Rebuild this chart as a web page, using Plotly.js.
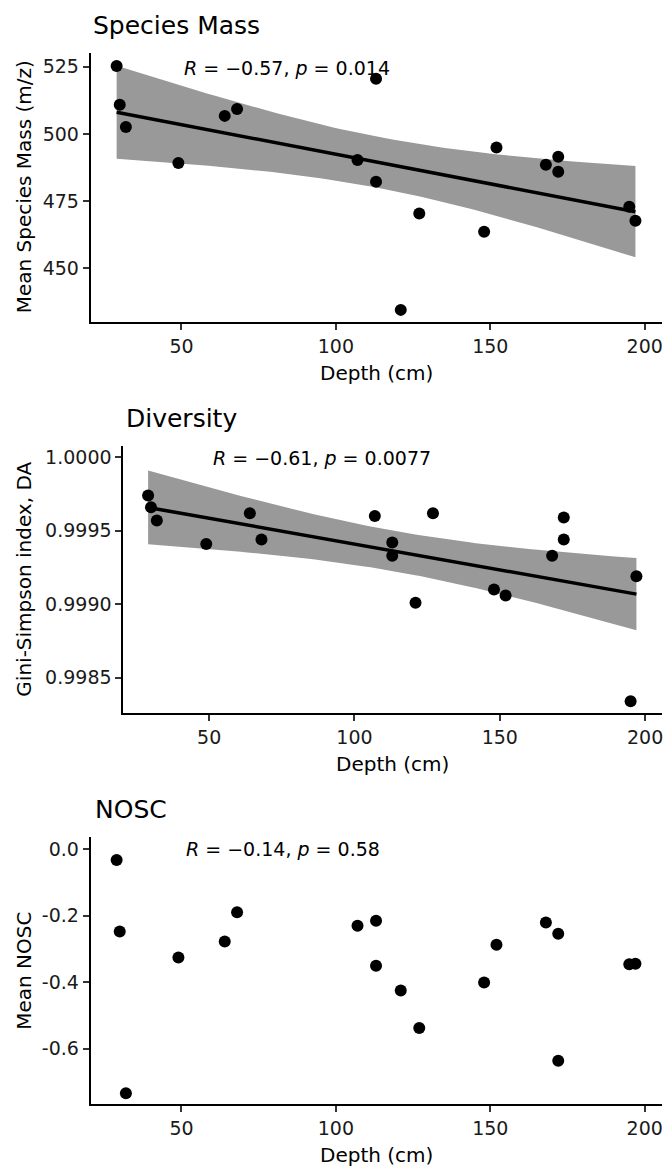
<!DOCTYPE html>
<html>
<head>
<meta charset="utf-8">
<script src="https://cdn.plot.ly/plotly-3.0.1.min.js"></script>
<style>html,body{margin:0;padding:0;background:#fff;}#chart{width:665px;height:1167px;}</style>
</head>
<body>
<div id="chart"></div>
<script>
// ---- data ----
const depth = [29, 30, 32, 49, 64, 68, 107, 113, 113, 121, 127, 148, 152, 168, 172, 172, 195, 197];
const speciesMass = [525.3, 510.8, 502.6, 489.2, 506.7, 509.3, 490.3, 520.5, 482.2, 434.5, 470.4, 463.6, 494.9, 488.5, 491.5, 485.9, 472.9, 467.7];
const diversity = [0.99974, 0.99966, 0.99957, 0.99941, 0.99962, 0.99944, 0.99960, 0.99942, 0.99933, 0.99901, 0.99962, 0.99910, 0.99906, 0.99933, 0.99959, 0.99944, 0.99834, 0.99919];
const nosc = [-0.033, -0.248, -0.734, -0.326, -0.278, -0.190, -0.231, -0.216, -0.351, -0.425, -0.538, -0.401, -0.288, -0.221, -0.255, -0.636, -0.346, -0.345];

const panelTitles = ["Species Mass", "Diversity", "NOSC"];
const yTitles = ["Mean Species Mass (m/z)", "Gini-Simpson index, DA", "Mean NOSC"];
const xTitle = "Depth (cm)";
const corLabels = ["<i>R</i> = \u22120.57, <i>p</i> = 0.014", "<i>R</i> = \u22120.61, <i>p</i> = 0.0077", "<i>R</i> = \u22120.14, <i>p</i> = 0.58"];
const xTickVals = [50, 100, 150, 200];
const y1TickVals = [450, 475, 500, 525];
const y2TickVals = [0.9985, 0.9990, 0.9995, 1.0000];
const y2TickText = ["0.9985", "0.9990", "0.9995", "1.0000"];
const y3TickVals = [-0.6, -0.4, -0.2, 0.0];
const y3TickText = ["-0.6", "-0.4", "-0.2", "0.0"];
const T_975_DF16 = 2.1199; // t quantile for 95% CI, n-2 = 16

// ---- linear model fit with confidence band (like geom_smooth(method="lm")) ----
function lmBand(x, y, nGrid) {
  const n = x.length;
  const mx = x.reduce((a, b) => a + b, 0) / n;
  const my = y.reduce((a, b) => a + b, 0) / n;
  let sxx = 0, sxy = 0;
  for (let i = 0; i < n; i++) { sxx += (x[i] - mx) ** 2; sxy += (x[i] - mx) * (y[i] - my); }
  const b = sxy / sxx, a = my - b * mx;
  let sse = 0;
  for (let i = 0; i < n; i++) sse += (y[i] - a - b * x[i]) ** 2;
  const s = Math.sqrt(sse / (n - 2));
  const xmin = Math.min(...x), xmax = Math.max(...x);
  const gx = [], fit = [], lo = [], hi = [];
  for (let k = 0; k < nGrid; k++) {
    const xx = xmin + (xmax - xmin) * k / (nGrid - 1);
    const yy = a + b * xx;
    const se = s * Math.sqrt(1 / n + (xx - mx) ** 2 / sxx);
    gx.push(xx); fit.push(yy); lo.push(yy - T_975_DF16 * se); hi.push(yy + T_975_DF16 * se);
  }
  return { gx, fit, lo, hi };
}

const FONT = "DejaVu Sans, Liberation Sans, Arial, sans-serif";
const W = 665, H = 1167;
const bandColor = "rgb(153,153,153)";

function bandTraces(x, y, xa, ya) {
  const m = lmBand(x, y, 80);
  return [
    { x: m.gx.concat(m.gx.slice().reverse()), y: m.hi.concat(m.lo.slice().reverse()),
      type: "scatter", mode: "lines", fill: "toself", fillcolor: bandColor,
      line: { width: 0, color: bandColor }, hoverinfo: "skip", xaxis: xa, yaxis: ya, showlegend: false },
    { x: m.gx, y: m.fit, type: "scatter", mode: "lines", line: { color: "black", width: 3.5 },
      xaxis: xa, yaxis: ya, showlegend: false }
  ];
}
function pointTrace(x, y, xa, ya) {
  return { x: x, y: y, type: "scatter", mode: "markers", marker: { color: "black", size: 12 },
    xaxis: xa, yaxis: ya, showlegend: false };
}

const traces = [].concat(
  bandTraces(depth, speciesMass, "x", "y"),
  [pointTrace(depth, speciesMass, "x", "y")],
  bandTraces(depth, diversity, "x2", "y2"),
  [pointTrace(depth, diversity, "x2", "y2")],
  [pointTrace(depth, nosc, "x3", "y3")]
);

// panel pixel boxes [left, right, top, bottom]
const boxes = [[90.7, 662, 53, 321.7], [123.4, 662, 446, 713.3], [90.7, 662, 837.3, 1104.3]];
const xRanges = [[20.6, 205.6], [20.5, 205.8], [20.6, 205.6]];
const yRanges = [[430.1, 530.1], [0.998258, 1.000077], [-0.767, 0.035]];

function xAxis(i, anchor) {
  const b = boxes[i];
  return { domain: [b[0] / W, b[1] / W], range: xRanges[i], anchor: anchor,
    showline: true, linecolor: "black", linewidth: 2, showgrid: false, zeroline: false,
    ticks: "outside", ticklen: 6, tickwidth: 2, tickcolor: "#333",
    tickvals: xTickVals, tickfont: { family: FONT, size: 19, color: "#1a1a1a" } };
}
function yAxis(i, anchor, extra) {
  const b = boxes[i];
  return Object.assign({ domain: [1 - b[3] / H, 1 - b[2] / H], range: yRanges[i], anchor: anchor,
    showline: true, linecolor: "black", linewidth: 2, showgrid: false, zeroline: false,
    ticks: "outside", ticklen: 6, tickwidth: 2, tickcolor: "#333",
    tickfont: { family: FONT, size: 19, color: "#1a1a1a" } }, extra);
}

const annotations = [];
const titlePos = [[91.2, 25.8], [124.3, 419], [93.3, 809.7]];
const corPos = [[182, 68.3], [210.8, 457.5], [183.6, 849]];
for (let i = 0; i < 3; i++) {
  const b = boxes[i];
  annotations.push({ xref: "paper", yref: "paper", x: titlePos[i][0] / W, y: 1 - titlePos[i][1] / H,
    xanchor: "left", yanchor: "middle", showarrow: false, text: panelTitles[i],
    font: { family: FONT, size: 25, color: "black" } });
  annotations.push({ xref: "paper", yref: "paper", x: corPos[i][0] / W, y: 1 - corPos[i][1] / H,
    xanchor: "left", yanchor: "middle", showarrow: false, text: corLabels[i],
    font: { family: FONT, size: 19, color: "black" } });
  annotations.push({ xref: "paper", yref: "paper", x: 24 / W, y: 1 - ((b[2] + b[3]) / 2) / H,
    xanchor: "center", yanchor: "middle", showarrow: false, text: yTitles[i], textangle: -90,
    font: { family: FONT, size: 20, color: "black" } });
  annotations.push({ xref: "paper", yref: "paper", x: ((b[0] + b[1]) / 2) / W, y: 1 - (b[3] + 51) / H,
    xanchor: "center", yanchor: "middle", showarrow: false, text: xTitle,
    font: { family: FONT, size: 20, color: "black" } });
}

const layout = {
  width: W, height: H, margin: { l: 0, r: 0, t: 0, b: 0 },
  paper_bgcolor: "white", plot_bgcolor: "white", showlegend: false,
  font: { family: FONT, color: "black" },
  xaxis: xAxis(0, "y"), yaxis: yAxis(0, "x", { tickvals: y1TickVals }),
  xaxis2: xAxis(1, "y2"), yaxis2: yAxis(1, "x2", { tickvals: y2TickVals, ticktext: y2TickText }),
  xaxis3: xAxis(2, "y3"), yaxis3: yAxis(2, "x3", { tickvals: y3TickVals, ticktext: y3TickText }),
  annotations: annotations
};

Plotly.newPlot("chart", traces, layout, { staticPlot: true, displayModeBar: false });
</script>
</body>
</html>
